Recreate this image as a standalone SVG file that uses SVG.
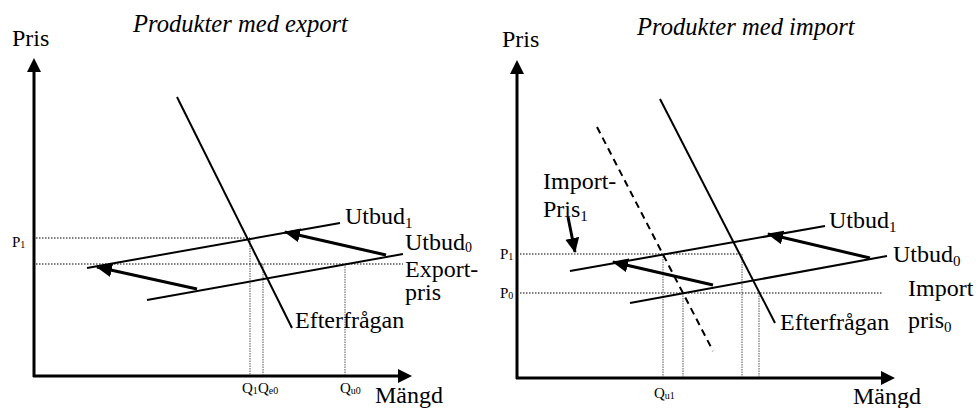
<svg xmlns="http://www.w3.org/2000/svg" width="979" height="408" viewBox="0 0 979 408" font-family="'Liberation Serif', 'DejaVu Serif', serif">
<defs>
<style>
text{font-family:'Liberation Serif','Times New Roman',Times,'DejaVu Serif',serif;fill:#000}
.big{font-size:24px}
.title{font-size:24.6px;font-style:italic}
.sm{font-size:15px}
.axis{stroke:#000;stroke-width:3;fill:none}
.curve{stroke:#000;stroke-width:2;fill:none}
.dash{stroke:#000;stroke-width:2;fill:none;stroke-dasharray:7 5}
.shift{stroke:#000;stroke-width:3;fill:none;marker-end:url(#ah)}
.hdot{stroke:#000;stroke-width:1.2;fill:none;stroke-dasharray:1.5 1.5}
.vdot{stroke:#555;stroke-width:1;fill:none;stroke-dasharray:1.5 1}
</style>
<marker id="ah" markerUnits="userSpaceOnUse" markerWidth="18" markerHeight="16" refX="15" refY="7" orient="auto">
<path d="M0,0 L16,7 L0,14 Z" fill="#000"/>
</marker>
<marker id="ahs" markerUnits="userSpaceOnUse" markerWidth="18" markerHeight="16" refX="14" refY="7" orient="auto">
<path d="M0,0 L15,7 L0,14 Z" fill="#000"/>
</marker>
</defs>
<rect width="979" height="408" fill="#fff"/>

<g id="left-panel">
<g id="left-title"><text class="title" x="133" y="32">Produkter med export</text></g>
<g id="left-axes">
<line class="axis" x1="34" y1="377" x2="34" y2="70"/>
<polygon points="34,58 27,72 41,72" fill="#000"/>
<line class="axis" x1="33" y1="376" x2="400" y2="376"/>
<polygon points="412,376 398,369 398,383" fill="#000"/>
<text class="big" x="12" y="46">Pris</text>
<text class="big" x="375" y="403">Mängd</text>
</g>
<g id="left-guides">
<line class="hdot" x1="36" y1="238" x2="250" y2="238"/>
<line class="hdot" x1="36" y1="264" x2="403" y2="264"/>
<line class="vdot" x1="250" y1="238" x2="250" y2="375"/>
<line class="vdot" x1="263" y1="264" x2="263" y2="375"/>
<line class="vdot" x1="345" y1="264" x2="345" y2="375"/>
</g>
<g id="left-demand">
<line class="curve" x1="177" y1="97" x2="292" y2="328"/>
<text class="big" x="295" y="328">Efterfrågan</text>
</g>
<g id="left-utbud1">
<line class="curve" x1="87" y1="268" x2="340" y2="223"/>
<text class="big" x="345" y="224">Utbud<tspan font-size="15" dy="4">1</tspan></text>
</g>
<g id="left-utbud0">
<line class="curve" x1="147" y1="300" x2="403" y2="254"/>
<text class="big" x="405" y="250">Utbud<tspan font-size="14" dy="2">0</tspan></text>
</g>
<g id="left-exportpris">
<text class="big" x="405" y="277">Export-</text>
<text class="big" x="405" y="300">pris</text>
</g>
<g id="left-labels">
<text class="sm" x="12" y="247">P<tspan font-size="10" dy="1">1</tspan></text>
<text class="sm" x="242" y="393">Q<tspan font-size="10" dy="1">1</tspan></text>
<text class="sm" x="258" y="393">Q<tspan font-size="10" dy="1">e0</tspan></text>
<text class="sm" x="340" y="393">Q<tspan font-size="10" dy="1">u0</tspan></text>
</g>
<g id="left-connectors">
<line class="shift" x1="386" y1="255" x2="285" y2="232"/>
<line class="shift" x1="197" y1="289" x2="97" y2="267"/>
</g>
</g>

<g id="right-panel">
<g id="right-title"><text class="title" x="637" y="35">Produkter med import</text></g>
<g id="right-axes">
<line class="axis" x1="517" y1="379" x2="517" y2="72"/>
<polygon points="517,60 510,74 524,74" fill="#000"/>
<line class="axis" x1="516" y1="378" x2="883" y2="378"/>
<polygon points="895,378 881,371 881,385" fill="#000"/>
<text class="big" x="502" y="47">Pris</text>
<text class="big" x="853" y="404">Mängd</text>
</g>
<g id="right-guides">
<line class="hdot" x1="520" y1="254" x2="741" y2="254"/>
<line class="hdot" x1="520" y1="293" x2="882" y2="293"/>
<line class="vdot" x1="663" y1="254" x2="663" y2="377"/>
<line class="vdot" x1="683" y1="293" x2="683" y2="377"/>
<line class="vdot" x1="742" y1="254" x2="742" y2="377"/>
<line class="vdot" x1="759" y1="293" x2="759" y2="377"/>
</g>
<g id="right-demand-dashed">
<line class="dash" x1="597" y1="127" x2="713" y2="351"/>
</g>
<g id="right-demand">
<line class="curve" x1="660" y1="99" x2="775" y2="323"/>
<text class="big" x="780" y="330">Efterfrågan</text>
</g>
<g id="right-utbud1">
<line class="curve" x1="570" y1="271" x2="825" y2="226"/>
<text class="big" x="829" y="228">Utbud<tspan font-size="15" dy="4">1</tspan></text>
</g>
<g id="right-utbud0">
<line class="curve" x1="630" y1="303" x2="887" y2="256"/>
<text class="big" x="893" y="262">Utbud<tspan font-size="15" dy="4">0</tspan></text>
</g>
<g id="right-importpris0">
<text class="big" x="908" y="296">Import</text>
<text class="big" x="908" y="328">pris<tspan font-size="15" dy="4">0</tspan></text>
</g>
<g id="right-importpris1">
<text class="big" x="543" y="189">Import-</text>
<text class="big" x="543" y="217">Pris<tspan font-size="15" dy="4">1</tspan></text>
</g>
<g id="right-labels">
<text class="sm" x="500" y="259">P<tspan font-size="10" dy="1">1</tspan></text>
<text class="sm" x="500" y="298">P<tspan font-size="10" dy="1">0</tspan></text>
<text class="sm" x="654" y="398">Q<tspan font-size="10" dy="1">u1</tspan></text>
</g>
<g id="right-connectors">
<line class="shift" x1="870" y1="258" x2="768" y2="234"/>
<line class="shift" x1="713" y1="285" x2="613" y2="262"/>
<line stroke="#000" stroke-width="3" marker-end="url(#ahs)" x1="568" y1="217" x2="575" y2="252"/>
</g>
</g>
</svg>
